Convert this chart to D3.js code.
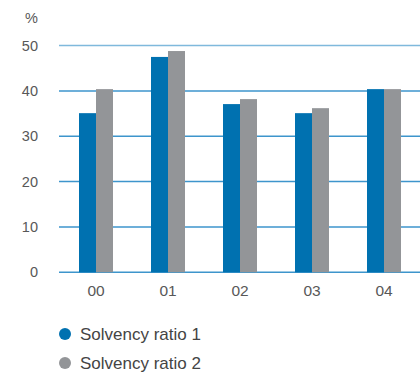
<!DOCTYPE html>
<html><head><meta charset="utf-8">
<script src="https://cdn.jsdelivr.net/npm/d3@7"></script>
<style>body{margin:0;background:#fff}svg{display:block}text{font-family:"Liberation Sans",Arial,sans-serif}</style>
</head><body><svg id="c" width="420" height="372"></svg>
<script>
const categories = ["00","01","02","03","04"];
const series1 = [35.1, 47.5, 37.1, 35.1, 40.4];
const series2 = [40.4, 48.8, 38.2, 36.2, 40.4];
const seriesNames = ["Solvency ratio 1","Solvency ratio 2"];
const seriesColors = ["#0071b0","#939598"];
const yTicks = [0,10,20,30,40,50];

const svg = d3.select("#c");
const x = d3.scaleBand().domain(categories).range([60,420]);
const y = d3.scaleLinear().domain([0,50]).range([272.3,45.6]);
const barW = 17;

svg.append("g").selectAll("line").data(yTicks).join("line")
  .attr("x1",59).attr("x2",420)
  .attr("y1",d=>y(d)).attr("y2",d=>y(d))
  .attr("stroke",d=>d===50?"#7fb9dc":"#3d95cc").attr("stroke-width",1.5);

svg.append("g").selectAll("text").data(yTicks).join("text")
  .attr("x",38).attr("y",d=>y(d)+5).attr("text-anchor","end")
  .attr("font-size",14.5).attr("fill","#585858").text(d=>d);
svg.append("text").attr("x",38).attr("y",23).attr("text-anchor","end")
  .attr("font-size",14.5).attr("fill","#585858").text("%");

[series1,series2].forEach((s,i)=>{
  svg.append("g").selectAll("rect").data(s).join("rect")
    .attr("x",(d,j)=>x(categories[j])+x.bandwidth()/2-barW+i*barW)
    .attr("width",barW)
    .attr("y",d=>y(d)).attr("height",d=>y(0)-y(d))
    .attr("fill",seriesColors[i]);
});

svg.append("g").selectAll("text").data(categories).join("text")
  .attr("x",d=>x(d)+x.bandwidth()/2).attr("y",296).attr("text-anchor","middle")
  .attr("font-size",15.5).attr("fill","#585858").text(d=>d);

const lg = svg.append("g").selectAll("g").data(seriesNames).join("g")
  .attr("transform",(d,i)=>`translate(0,${334+i*29})`);
lg.append("circle").attr("cx",65).attr("cy",0).attr("r",6).attr("fill",(d,i)=>seriesColors[i]);
lg.append("text").attr("x",80).attr("y",6).attr("font-size",17).attr("fill","#444").text(d=>d);
</script></body></html>
